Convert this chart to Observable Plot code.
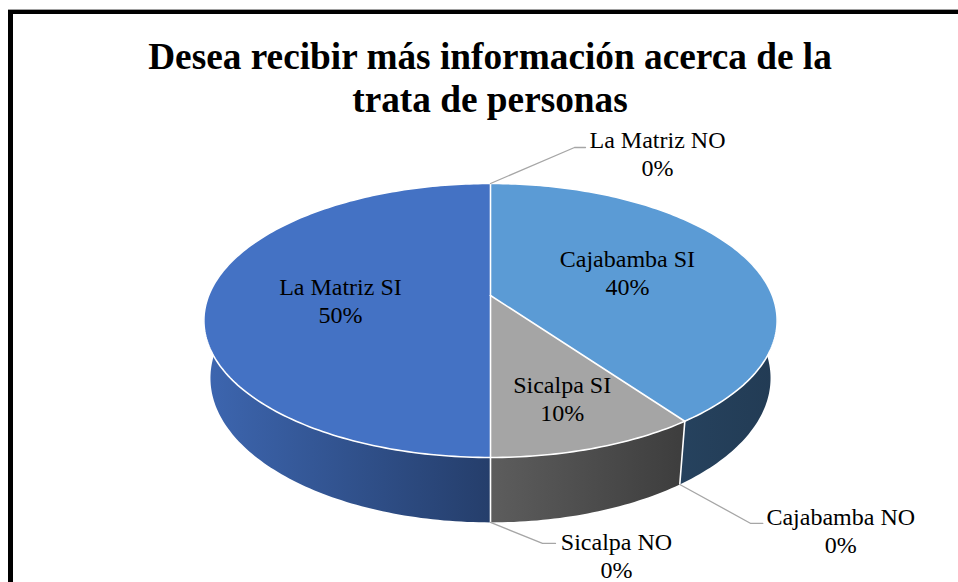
<!DOCTYPE html>
<html>
<head>
<meta charset="utf-8">
<script src="https://cdn.jsdelivr.net/npm/d3@7"></script>
<script src="https://cdn.jsdelivr.net/npm/@observablehq/plot@0.6"></script>
<style>
  html, body { margin: 0; padding: 0; background: #fff; overflow: hidden; width: 958px; height: 582px; }
  #frame { position: absolute; left: 8px; top: 10px; width: 2000px; height: 2000px;
           border-left: 5px solid #000; border-top: 4px solid #000; box-shadow: 0 -1px 0 #a0a0a0; }
  #chart { position: absolute; left: 0; top: 0; }
  #chart svg text { font-family: "Liberation Serif", "Times New Roman", serif !important; }
  #title { position: absolute; left: 0; top: 35px; width: 980px; text-align: center;
           font-family: "Liberation Serif", "Times New Roman", serif; font-weight: bold;
           font-size: 37.3px; line-height: 43px; color: #000; }
</style>
</head>
<body>
<div id="frame"></div>
<div id="chart"></div>
<div id="title">Desea recibir más información acerca de la<br>trata de personas</div>
<script>
// ---- data ----
const categories = ["La Matriz SI", "La Matriz NO", "Cajabamba SI", "Cajabamba NO", "Sicalpa SI", "Sicalpa NO"];
const values = [50, 0, 40, 0, 10, 0];

// ---- styles ----
const topColors = ["#4472c4", "#ed7d31", "#5b9bd5", "#ffc000", "#a5a5a5", "#70ad47"];
const sideColors = [["#3d66b0", "#253e6b"], ["#b0581f", "#8a4418"], ["#26425e", "#223b54"],
                    ["#b38700", "#8c6a00"], ["#5d5d5d", "#3d3d3d"], ["#4f7a32", "#3e6027"]];

// ---- 3D perspective pie geometry (layout) ----
const cx = 490, cy = 295, f = 1364, D = 4.84, s = 0.47, c = Math.sqrt(1 - s * s), h = 0.234;
const startAngle = 180;
function proj(deg, r, Y) {
  const t = deg * Math.PI / 180;
  const X = r * Math.sin(t), Z = r * Math.cos(t);
  const depth = -Y * s + Z * c + D;
  const up = Y * c + Z * s;
  return {x: cx + f * X / depth, y: cy - f * up / depth};
}
function sample(a0, a1, r, Y) {
  const n = Math.max(1, Math.ceil(Math.abs(a1 - a0)));
  return d3.range(n + 1).map(k => proj(a0 + (a1 - a0) * k / n, r, Y));
}
function frontIntervals(a0, a1) {
  const out = [];
  for (let k = -1; k <= 2; k++) {
    const lo = Math.max(a0, 60 + 360 * k), hi = Math.min(a1, 300 + 360 * k);
    if (hi > lo) out.push([lo, hi]);
  }
  return out;
}

const total = d3.sum(values);
let acc = startAngle;
const slices = categories.map((cat, i) => {
  const a0 = acc, a1 = acc + values[i] / total * 360;
  acc = a1;
  return {cat, i, value: values[i], a0, a1, pct: Math.round(values[i] / total * 100) + "%"};
});

const marks = [];

// sides (front, visible parts)
slices.filter(d => d.value > 0).forEach(d => {
  frontIntervals(d.a0, d.a1).forEach(([lo, hi]) => {
    const pts = [...sample(lo, hi, 1, 0), ...sample(hi, lo, 1, -h)];
    marks.push(Plot.line(pts, {x: "x", y: "y", fill: `url(#side${d.i})`, stroke: "none", curve: "linear-closed"}));
  });
});

// top faces
slices.filter(d => d.value > 0).forEach(d => {
  const pts = [proj(0, 0, 0), ...sample(d.a0, d.a1, 1, 0)];
  marks.push(Plot.line(pts, {x: "x", y: "y", fill: topColors[d.i], stroke: "none", curve: "linear-closed"}));
});

// white borders
marks.push(Plot.line(sample(0, 360, 1, 0), {x: "x", y: "y", stroke: "white", strokeWidth: 1.6, curve: "linear-closed"}));
const bounds = Array.from(new Set(slices.map(d => ((d.a0 % 360) + 360) % 360)));
bounds.forEach(b => {
  marks.push(Plot.line([proj(0, 0, 0), proj(b, 1, 0)], {x: "x", y: "y", stroke: "white", strokeWidth: 1.6}));
  if (Math.cos(b * Math.PI / 180) < 0.5) {
    marks.push(Plot.line([proj(b, 1, 0), proj(b, 1, -h)], {x: "x", y: "y", stroke: "white", strokeWidth: 1.6}));
  }
});

// inner labels
const innerLayout = {"La Matriz SI": [0.53, -5], "Cajabamba SI": [0.53, -1], "Sicalpa SI": [0.72, 0]};
const innerLabels = slices.filter(d => d.value > 0).map(d => {
  const [r, dA] = innerLayout[d.cat] || [0.53, 0];
  const p = proj((d.a0 + d.a1) / 2 + dA, r, 0);
  return {x: p.x, y: p.y - 1.5, text: d.cat + "\n" + d.pct};
});

// outer labels with leader lines (zero slices)
const outerLayout = {
  "La Matriz NO": {elbow: [84, -36], end: [95, -36], label: [167, -30]},
  "Cajabamba NO": {elbow: [71, 39], end: [83, 39], label: [161, 46]},
  "Sicalpa NO": {elbow: [52, 21], end: [65, 21], label: [126, 33]}
};
const leaders = [], outerLabels = [];
slices.filter(d => d.value === 0).forEach(d => {
  const back = Math.cos(d.a0 * Math.PI / 180) > 0;
  const a = proj(d.a0, 1, back ? 0 : -h);
  const L = outerLayout[d.cat];
  leaders.push({k: d.cat, x: a.x, y: a.y});
  leaders.push({k: d.cat, x: a.x + L.elbow[0], y: a.y + L.elbow[1]});
  leaders.push({k: d.cat, x: a.x + L.end[0], y: a.y + L.end[1]});
  outerLabels.push({x: a.x + L.label[0], y: a.y + L.label[1], text: d.cat + "\n" + d.pct});
});
marks.push(Plot.line(leaders, {x: "x", y: "y", z: "k", stroke: "#a6a6a6", strokeWidth: 1.3}));

const textOpts = {x: "x", y: "y", text: "text", fill: "#000", fontSize: 24,
  fontFamily: "Liberation Serif", lineHeight: 1.167, textAnchor: "middle"};
marks.push(Plot.text(innerLabels, textOpts));
marks.push(Plot.text(outerLabels, textOpts));

const chart = Plot.plot({
  width: 958, height: 582, margin: 0,
  style: {background: "transparent", overflow: "visible", fontFamily: "Liberation Serif"},
  x: {domain: [0, 958], range: [0, 958], axis: null},
  y: {domain: [0, 582], range: [0, 582], axis: null},
  marks
});
const defs = d3.select(chart).insert("defs", ":first-child");
slices.forEach(d => {
  const g = defs.append("linearGradient").attr("id", `side${d.i}`)
    .attr("x1", 0).attr("x2", 1).attr("y1", 0).attr("y2", 0);
  g.append("stop").attr("offset", 0).attr("stop-color", sideColors[d.i][0]);
  g.append("stop").attr("offset", 1).attr("stop-color", sideColors[d.i][1]);
});
d3.select(chart).selectAll("text").style("font-family", "'Liberation Serif', serif");
document.getElementById("chart").append(chart);
</script>
</body>
</html>
